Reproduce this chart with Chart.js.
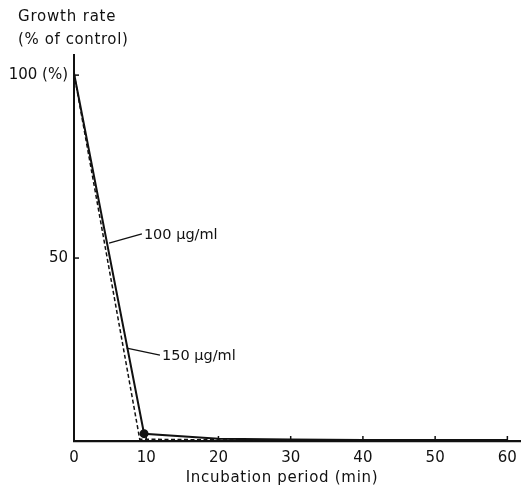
<!DOCTYPE html>
<html>
<head>
<meta charset="utf-8">
<script src="https://cdn.jsdelivr.net/npm/chart.js@4/dist/chart.umd.min.js"></script>
<style>
html,body{margin:0;padding:0;background:#fff;}
#wrap{width:525px;height:487px;position:relative;}
</style>
</head>
<body>
<div id="wrap"><canvas id="c" width="525" height="487"></canvas></div>
<script>
// ---- data ----
const solidTimes = [0, 9.7, 20, 30, 40, 50, 60];
const solidValues = [100.5, 2, 0.6, 0.4, 0.3, 0.3, 0.3];   // 100 µg/ml
const dashedTimes = [0, 9.1, 20, 30, 40, 50, 60];
const dashedValues = [100.5, 0.5, 0.3, 0.2, 0.2, 0.2, 0.2]; // 150 µg/ml
const xTicks = [0, 10, 20, 30, 40, 50, 60];
const yTicks = [50, 100];
const yTickLabels = {50: '50', 100: '100 (%)'};
const seriesNames = ['100 µg/ml', '150 µg/ml'];

const FONT = "'DejaVu Sans', sans-serif";

// label leader lines in data coordinates
const annotations = [
  {text: seriesNames[0], from: [4.85, 54.1], to: [9.4, 56.6]},
  {text: seriesNames[1], from: [7.3, 25.4], to: [11.9, 23.5]}
];

const extras = {
  id: 'extras',
  afterDraw(chart) {
    const ctx = chart.ctx;
    const xs = chart.scales.x, ys = chart.scales.y;
    const area = chart.chartArea;
    ctx.save();
    ctx.strokeStyle = '#111';
    ctx.lineWidth = 1.5;
    // inward tick marks
    xTicks.forEach(v => {
      if (v === 0) return;
      const px = xs.getPixelForValue(v);
      ctx.beginPath(); ctx.moveTo(px, area.bottom); ctx.lineTo(px, area.bottom - 5); ctx.stroke();
    });
    yTicks.forEach(v => {
      const py = ys.getPixelForValue(v);
      ctx.beginPath(); ctx.moveTo(area.left, py); ctx.lineTo(area.left + 5, py); ctx.stroke();
    });
    ctx.fillStyle = '#111';
    ctx.font = '15px ' + FONT;
    ctx.textBaseline = 'middle';
    // y title
    ctx.textAlign = 'left';
    ctx.letterSpacing = '0.8px';
    ctx.fillText('Growth rate', 18, 17);
    ctx.letterSpacing = '0.6px';
    ctx.fillText('(% of control)', 18, 40);
    // x title
    ctx.letterSpacing = '0.7px';
    ctx.textAlign = 'center';
    ctx.fillText('Incubation period (min)', 282, 478);
    // annotations
    ctx.textAlign = 'left';
    ctx.letterSpacing = '0px';
    ctx.font = '14.5px ' + FONT;
    ctx.lineWidth = 1.3;
    annotations.forEach(a => {
      const x1 = xs.getPixelForValue(a.from[0]), y1 = ys.getPixelForValue(a.from[1]);
      const x2 = xs.getPixelForValue(a.to[0]), y2 = ys.getPixelForValue(a.to[1]);
      ctx.beginPath(); ctx.moveTo(x1, y1); ctx.lineTo(x2, y2); ctx.stroke();
      ctx.fillText(a.text, x2 + 2, y2 + 1);
    });
    ctx.restore();
  }
};

new Chart(document.getElementById('c'), {
  type: 'line',
  data: {
    datasets: [
      {
        label: seriesNames[0],
        data: solidTimes.map((t, i) => ({x: t, y: solidValues[i]})),
        borderColor: '#111', backgroundColor: '#111',
        borderWidth: 2, tension: 0,
        pointRadius: solidValues.map(v => v === 2 ? 3.5 : 0),
        pointHoverRadius: 0
      },
      {
        label: seriesNames[1],
        data: dashedTimes.map((t, i) => ({x: t, y: dashedValues[i]})),
        borderColor: '#111', backgroundColor: '#111',
        borderWidth: 1.5, borderDash: [4, 2.5], tension: 0,
        pointRadius: 0, pointHoverRadius: 0
      }
    ]
  },
  options: {
    responsive: false,
    animation: false,
    events: [],
    layout: {padding: {top: 55, right: 3, left: 0, bottom: 0}},
    plugins: {legend: {display: false}, tooltip: {enabled: false}},
    scales: {
      x: {
        type: 'linear', min: 0, max: 61.8,
        afterBuildTicks: s => { s.ticks = xTicks.map(v => ({value: v})); },
        afterFit: s => { s.height = 46; },
        grid: {display: false, drawTicks: false},
        border: {display: true, color: '#111', width: 2.2},
        ticks: {color: '#111', font: {family: FONT, size: 15}, padding: 8, maxRotation: 0},
        title: {display: false}
      },
      y: {
        type: 'linear', min: 0, max: 105.5,
        afterBuildTicks: s => { s.ticks = yTicks.map(v => ({value: v})); },
        afterFit: s => { s.width = 74; },
        grid: {display: false, drawTicks: false},
        border: {display: true, color: '#111', width: 2},
        ticks: {color: '#111', font: {family: FONT, size: 15}, padding: 6,
                callback: v => yTickLabels[v] || ''}
      }
    }
  },
  plugins: [extras]
});
</script>
</body>
</html>
